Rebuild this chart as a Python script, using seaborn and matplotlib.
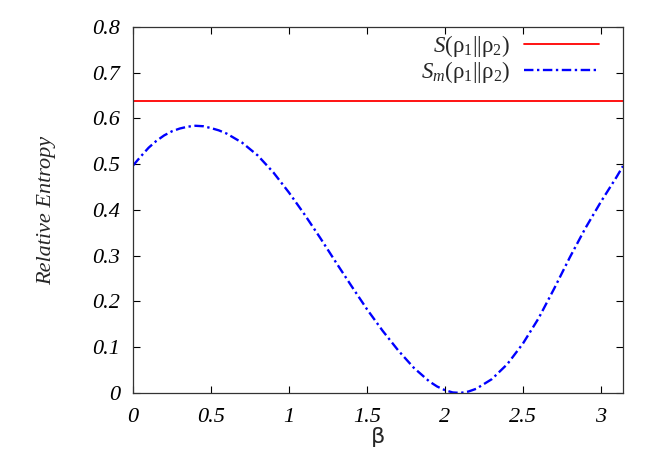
import numpy as np
import pandas as pd
import matplotlib
matplotlib.use("Agg")
import matplotlib.pyplot as plt
import seaborn as sns

# values
beta_full = [0.0, 3.1416]
s_full = [0.638, 0.638]

beta_m = [0.0, 0.05, 0.1, 0.15, 0.2, 0.25, 0.3, 0.35, 0.4, 0.45,
          0.5, 0.55, 0.6, 0.7, 0.8, 0.9, 1.0, 1.1, 1.2, 1.3,
          1.4, 1.5, 1.6, 1.7, 1.8, 1.9, 1.95, 2.0, 2.05, 2.1,
          2.15, 2.2, 2.3, 2.4, 2.5, 2.6, 2.7, 2.8, 2.9, 3.0,
          3.1, 3.1416]
s_m = [0.497, 0.517, 0.536, 0.551, 0.563, 0.572, 0.578, 0.582, 0.584, 0.583,
       0.579, 0.574, 0.567, 0.547, 0.519, 0.482, 0.438, 0.390, 0.339, 0.286,
       0.234, 0.183, 0.136, 0.093, 0.055, 0.025, 0.014, 0.006, 0.001, 0.000,
       0.003, 0.009, 0.030, 0.063, 0.108, 0.163, 0.228, 0.296, 0.360, 0.418,
       0.472, 0.496]

x_ticks = [0, 0.5, 1, 1.5, 2, 2.5, 3]
x_labels = ["0", "0.5", "1", "1.5", "2", "2.5", "3"]
y_ticks = [0, 0.1, 0.2, 0.3, 0.4, 0.5, 0.6, 0.7, 0.8]
y_labels = ["0", "0.1", "0.2", "0.3", "0.4", "0.5", "0.6", "0.7", "0.8"]

label_full = r"$S(\mathrm{ρ}_{\mathit{1}}||\mathrm{ρ}_{\mathrm{2}})$"
label_m = r"$S_m(\mathrm{ρ}_{\mathit{1}}||\mathrm{ρ}_{\mathrm{2}})$"

sns.set_theme(style="ticks")
plt.rcParams["font.family"] = ["Liberation Serif", "DejaVu Serif"]
plt.rcParams["mathtext.fontset"] = "custom"
plt.rcParams["mathtext.rm"] = "Liberation Serif"
plt.rcParams["mathtext.it"] = "Liberation Serif:italic"

df_full = pd.DataFrame({"beta": beta_full, "S": s_full})
df_m = pd.DataFrame({"beta": beta_m, "S": s_m})

fig = plt.figure(figsize=(6.64, 4.65), dpi=100)
ax = fig.add_axes([0.2003, 0.155, 0.738, 0.787])

sns.lineplot(data=df_full, x="beta", y="S", ax=ax, color="#ff0000",
             linewidth=1.3, label=label_full)
sns.lineplot(data=df_m, x="beta", y="S", ax=ax, color="#0000ff",
             linewidth=1.7, label=label_m, dashes=False)
ax.lines[1].set_dashes([4, 1.5, 1, 1.5])

ax.set_xlim(0, np.pi)
ax.set_ylim(0, 0.8)
ax.set_xticks(x_ticks)
ax.set_xticklabels(x_labels, fontstyle="italic", fontsize=16)
ax.set_yticks(y_ticks)
ax.set_yticklabels(y_labels, fontstyle="italic", fontsize=16)
ax.tick_params(direction="in", length=5, width=0.8, top=True, right=True,
               colors="black")
ax.tick_params(axis="y", pad=9)
ax.tick_params(axis="x", pad=11)
for sp in ax.spines.values():
    sp.set_linewidth(0.9)
    sp.set_color("#333333")

ax.set_xlabel("β", fontsize=16, family="DejaVu Sans", labelpad=0)
ax.set_ylabel("Relative Entropy", fontsize=16, fontstyle="italic", labelpad=26)

leg = ax.legend(loc="upper right", bbox_to_anchor=(0.98, 1.02), frameon=False,
                markerfirst=False, fontsize=16.5, handlelength=3.3,
                handletextpad=0.6, labelspacing=0.0, borderaxespad=0.2)

fig.savefig("out.png", dpi=100)
